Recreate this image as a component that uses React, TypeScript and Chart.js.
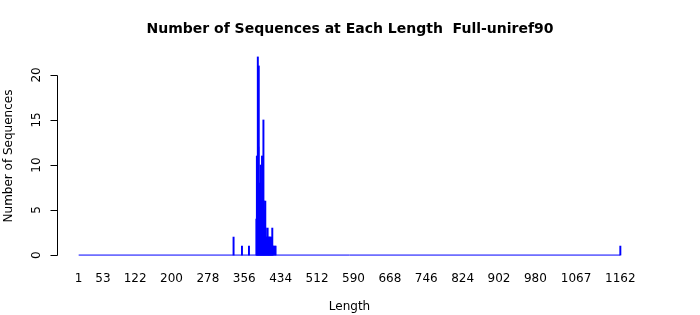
import React, { useEffect, useRef } from "react";
import { Chart, registerables } from "chart.js";

Chart.register(...registerables);

const chartTitle = "Number of Sequences at Each Length  Full-uniref90";
const xTitle = "Length";
const yTitle = "Number of Sequences";

const lengths = [
  333, 351, 366,
  382, 383, 384, 385, 386, 387, 388, 389, 390, 391, 392, 393, 394, 395, 396, 397,
  398, 399, 400, 401, 402, 403, 404, 405, 406, 407, 408, 409, 410, 411, 412, 413,
  414, 415, 416, 417, 418, 421, 423,
  1162,
];
const counts = [
  2, 1, 1,
  4, 11, 6, 22, 12, 21, 8, 5, 7, 10, 6, 4, 11, 8, 9, 15,
  6, 5, 4, 6, 3, 2, 2, 1, 3, 2, 1, 2, 2, 1, 2, 1,
  2, 1, 3, 1, 1, 1, 1,
  1,
];
const xTickValues = [1, 53, 122, 200, 278, 356, 434, 512, 590, 668, 746, 824, 902, 980, 1067, 1162];
const yTickValues = [0, 5, 10, 15, 20];
const lengthRange = [1, 1162];

const FONT = "DejaVu Sans, sans-serif";

const axesPlugin = {
  id: "rAxes",
  afterDraw(chart: any) {
    const ctx = chart.ctx;
    const xs = chart.scales.x;
    const ys = chart.scales.y;
    const area = chart.chartArea;
    ctx.save();
    ctx.fillStyle = "#000";
    ctx.strokeStyle = "#000";
    ctx.lineWidth = 1;

    // title
    ctx.font = `bold 14px ${FONT}`;
    ctx.textAlign = "center";
    ctx.textBaseline = "middle";
    ctx.fillText(chartTitle, 350, 29.5);

    // y axis
    const ax = Math.round(area.left) + 0.5;
    const y0 = ys.getPixelForValue(yTickValues[0]);
    const y1 = ys.getPixelForValue(yTickValues[yTickValues.length - 1]);
    ctx.beginPath();
    ctx.moveTo(ax, Math.round(y0) + 0.5);
    ctx.lineTo(ax, Math.round(y1) + 0.5);
    yTickValues.forEach((v) => {
      const py = Math.round(ys.getPixelForValue(v)) + 0.5;
      ctx.moveTo(ax, py);
      ctx.lineTo(ax - 7, py);
    });
    ctx.stroke();

    ctx.font = `12px ${FONT}`;
    yTickValues.forEach((v) => {
      const py = ys.getPixelForValue(v);
      ctx.save();
      ctx.translate(36.5, py);
      ctx.rotate(-Math.PI / 2);
      ctx.textAlign = "center";
      ctx.textBaseline = "middle";
      ctx.fillText(String(v), 0, 0);
      ctx.restore();
    });

    // y title
    ctx.save();
    ctx.translate(9, (area.top + area.bottom) / 2);
    ctx.rotate(-Math.PI / 2);
    ctx.textAlign = "center";
    ctx.textBaseline = "middle";
    ctx.fillText(yTitle, 0, 0);
    ctx.restore();

    // x tick labels
    ctx.textAlign = "center";
    ctx.textBaseline = "middle";
    xTickValues.forEach((v) => {
      ctx.fillText(String(v), xs.getPixelForValue(v), 279);
    });

    // x title
    ctx.fillText(xTitle, (area.left + area.right) / 2, 307);
    ctx.restore();
  },
};

export default function App() {
  const ref = useRef<HTMLCanvasElement>(null);

  useEffect(() => {
    document.body.style.margin = "0";
    const pad = (lengthRange[1] - lengthRange[0]) * 0.04;
    const yMax = Math.max(...counts);
    const yPad = yMax * 0.04;
    const chart = new Chart(ref.current!, {
      type: "bar",
      data: {
        datasets: [
          {
            type: "line",
            data: lengthRange.map((x) => ({ x, y: 0 })),
            borderColor: "#0000ff",
            borderWidth: 1,
            pointRadius: 0,
            order: 2,
          } as any,
          {
            type: "bar",
            data: lengths.map((x, i) => ({ x, y: counts[i] })),
            backgroundColor: "#0000ff",
            barThickness: 1.3,
            order: 1,
          },
        ],
      },
      options: {
        responsive: false,
        animation: false,
        layout: { padding: { left: 57, right: 58, top: 49, bottom: 52 } },
        plugins: { legend: { display: false }, tooltip: { enabled: false }, title: { display: false } },
        scales: {
          x: {
            type: "linear",
            display: false,
            offset: false,
            min: lengthRange[0] - pad,
            max: lengthRange[1] + pad,
          },
          y: { type: "linear", display: false, min: -yPad, max: yMax + yPad },
        },
      },
      plugins: [axesPlugin],
    });
    return () => chart.destroy();
  }, []);

  return (
    <div style={{ width: 700, height: 315, background: "#fff" }}>
      <canvas ref={ref} width={700} height={315} />
    </div>
  );
}
